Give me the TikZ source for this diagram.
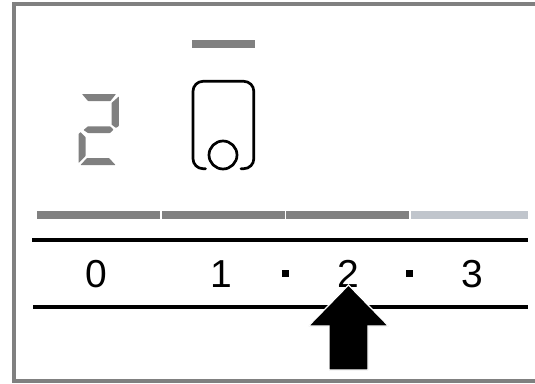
\documentclass[tikz,border=0pt]{standalone}
\usepackage{fontspec}
\setmainfont{Liberation Sans}
\definecolor{seg}{RGB}{128,128,128}
\definecolor{lite}{RGB}{192,197,204}
\tikzset{
 x=1pt,y=-1pt,
 seggray/.style={fill=seg,draw=none},
 rule/.style={line width=4pt,black},
 digit/.style={font=\fontsize{39}{39}\selectfont,inner sep=0pt,anchor=center},
 dotm/.style={fill=black,draw=none},
 sym/.style={line width=2.7pt,black,line cap=round}
}
\begin{document}
\begin{tikzpicture}
\useasboundingbox (0,0) rectangle (535,383);
\draw[seg,line width=4pt,line cap=butt] (535,4.3) -- (14,4.3) -- (14,381) -- (535,381);
% seven segment 2
\fill[seg,rounded corners=.5pt] (82,94) -- (116,94) -- (110.5,101) -- (88,101) -- cycle;
\fill[seg,rounded corners=.5pt] (118.8,96.5) -- (118.8,126) -- (116,128) -- (111.5,124.5) -- (111.5,103) -- cycle;
\fill[seg,rounded corners=.5pt] (88,126.3) -- (110,126.3) -- (113.5,129.5) -- (110,133) -- (88,133) -- (83.5,130) -- cycle;
\fill[seg,rounded corners=.5pt] (80.5,132) -- (85.5,137) -- (85.5,156) -- (78.5,163) -- (78.5,134) -- cycle;
\fill[seg,rounded corners=.5pt] (87,158) -- (109,158) -- (115.5,165) -- (80.5,165) -- cycle;
% symbol
\fill[seg] (192,40) rectangle (255,48);
\draw[sym,rounded corners=10pt] (205.5,168.7) -- (193,168.7) -- (193,81.3) -- (253.8,81.3) -- (253.8,168.7) -- (241,168.7);
\draw[black,line width=2.7pt] (223,155) circle (14);
% bars
\fill[seg] (37,211) rectangle (160,219);
\fill[seg] (162,211) rectangle (285,219);
\fill[seg] (286,211) rectangle (409,219);
\fill[lite] (411,211) rectangle (528,219);
% rules
\draw[rule] (32,240) -- (528,240);
\draw[rule] (33,307) -- (528,307);
% labels
\node[digit] (d0) at (96,274) {0};
\node[digit] (d1) at (221,274) {1};
\node[digit] (d2) at (348,274) {2};
\node[digit] (d3) at (472,274) {3};
\fill[dotm] (282,269.5) rectangle (289,277);
\fill[dotm] (406,269.5) rectangle (413,277);
% arrow
\fill[black,draw=white,line width=1.2pt] (348.5,285) -- (388.5,326) -- (368,326) -- (368,370) -- (329,370) -- (329,326) -- (308.5,326) -- cycle;
\end{tikzpicture}
\end{document}
